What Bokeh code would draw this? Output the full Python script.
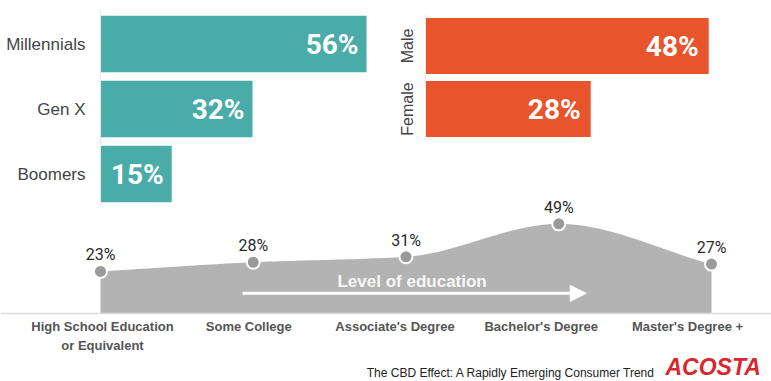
import numpy as np
from bokeh.plotting import figure
from bokeh.core.properties import value
from bokeh.models import (ColumnDataSource, FactorRange, Range1d, LabelSet, Label,
                          Arrow, NormalHead, Span)
from bokeh.layouts import column, row
from bokeh.embed import file_html
from bokeh.resources import INLINE

# ---------------- data ----------------
gen_cats = ["Millennials", "Gen X", "Boomers"]
gen_vals = [56, 32, 15]
gender_cats = ["Male", "Female"]
gender_vals = [48, 28]
edu_cats = ["High School Education\nor Equivalent", "Some College",
            "Associate's Degree", "Bachelor's Degree", "Master's Degree +"]
edu_vals = [23, 28, 31, 49, 27]
arrow_label = "Level of education"
footer_text = "The CBD Effect: A Rapidly Emerging Consumer Trend"
brand_text = "ACOSTA"

# ---------------- styles ----------------
TEAL = "#4aaca8"
ORANGE = "#e8542c"
AREA = "#b3b3b3"
DOT = "#9a9a9a"
FONT = "Liberation Sans"
NUMFONT = "Roboto"


def style_common(p):
    p.xgrid.visible = False
    p.ygrid.visible = False
    p.outline_line_color = None
    p.frame_align = False


# ---------------- generation bars ----------------
p1 = figure(width=380, height=206, y_range=FactorRange(*reversed(gen_cats)),
            x_range=Range1d(0, 280 / 4.75), output_backend="svg", toolbar_location=None,
            min_border_left=100, min_border_right=0, min_border_top=11, min_border_bottom=0)
style_common(p1)
src1 = ColumnDataSource(dict(cat=gen_cats, val=gen_vals, lbl=[f"{v}%" for v in gen_vals]))
p1.hbar(y="cat", right="val", left=0, height=0.87, source=src1, fill_color=TEAL, line_color=None)
p1.add_layout(LabelSet(x="val", y="cat", text="lbl", source=src1, x_offset=-8,
                       text_align="right", text_baseline="middle", text_color="white",
                       text_font=value(NUMFONT), text_font_size="28px", text_font_style="bold"))
p1.xaxis.visible = False
p1.yaxis.axis_line_color = "#e8e8e8"
p1.yaxis.major_tick_line_color = None
p1.yaxis.minor_tick_line_color = None
p1.yaxis.major_label_standoff = 9
p1.yaxis.major_label_text_font = FONT
p1.yaxis.major_label_text_font_size = "17px"
p1.yaxis.major_label_text_color = "#444444"

# ---------------- gender bars ----------------
p2 = figure(width=391, height=206, y_range=FactorRange(*reversed(gender_cats)),
            x_range=Range1d(0, 346 / 5.9), output_backend="svg", toolbar_location=None,
            min_border_left=45, min_border_right=0, min_border_top=14, min_border_bottom=66)
style_common(p2)
src2 = ColumnDataSource(dict(cat=gender_cats, val=gender_vals, lbl=[f"{v}%" for v in gender_vals]))
p2.hbar(y="cat", right="val", left=0, height=0.89, source=src2, fill_color=ORANGE, line_color=None)
p2.add_layout(LabelSet(x="val", y="cat", text="lbl", source=src2, x_offset=-10,
                       text_align="right", text_baseline="middle", text_color="white",
                       text_font=value(NUMFONT), text_font_size="28px", text_font_style="bold"))
p2.xaxis.visible = False
p2.yaxis.axis_line_color = "#e8e8e8"
p2.yaxis.major_tick_line_color = None
p2.yaxis.minor_tick_line_color = None
p2.yaxis.major_label_orientation = "vertical"
p2.yaxis.major_label_standoff = 4
p2.yaxis.major_label_text_font = FONT
p2.yaxis.major_label_text_font_size = "16px"
p2.yaxis.major_label_text_color = "#444444"

# ---------------- education area ----------------
n = len(edu_vals)
xs = np.arange(n, dtype=float)
ys = np.array(edu_vals, dtype=float)

# monotone cubic (Fritsch-Carlson) rendering of the smooth outline through the data points
d = np.diff(ys)
m = np.zeros(n)
m[0], m[-1] = d[0], d[-1]
for k in range(1, n - 1):
    m[k] = 0.0 if d[k - 1] * d[k] <= 0 else 2.0 / (1.0 / d[k - 1] + 1.0 / d[k])
cx, cy = [], []
t = np.linspace(0, 1, 30)
for k in range(n - 1):
    h00 = 2 * t**3 - 3 * t**2 + 1
    h10 = t**3 - 2 * t**2 + t
    h01 = -2 * t**3 + 3 * t**2
    h11 = t**3 - t**2
    cx.extend(xs[k] + t)
    cy.extend(h00 * ys[k] + h10 * m[k] + h01 * ys[k + 1] + h11 * m[k + 1])
area_src = ColumnDataSource(dict(x=[xs[0]] + cx + [xs[-1]], y=[0.0] + cy + [0.0]))

OVERLAP = 14
H3 = 381 - 206 + OVERLAP          # 189
BASE = 313 - (206 - OVERLAP)       # baseline, px from top of p3
PXU = 1.83                         # px per percent
p3 = figure(width=771, height=H3,
            x_range=Range1d(-100 / 152.75, 671 / 152.75),
            y_range=Range1d(-(H3 - BASE) / PXU, BASE / PXU),
            output_backend="svg", toolbar_location=None,
            min_border_left=0, min_border_right=0, min_border_top=0, min_border_bottom=0,
            styles={"margin-top": f"-{OVERLAP}px"})
style_common(p3)
p3.background_fill_alpha = 0
p3.border_fill_alpha = 0
p3.xaxis.visible = False
p3.yaxis.visible = False
p3.patch("x", "y", source=area_src, fill_color=AREA, line_color=None)
p3.add_layout(Span(location=0, dimension="width", line_color="#dcdcdc", line_width=1.5))

lines = [c.split("\n") for c in edu_cats]
pt_src = ColumnDataSource(dict(x=xs, v=ys, zero=np.zeros(n), lbl=[f"{v}%" for v in edu_vals],
                               line1=[l[0] for l in lines],
                               line2=[l[1] if len(l) > 1 else "" for l in lines],
                               xoff=[2 - 6.5 * i for i in range(n)]))
p3.scatter("x", "v", source=pt_src, size=13, fill_color=DOT, line_color="white", line_width=2)
p3.add_layout(LabelSet(x="x", y="v", text="lbl", source=pt_src, y_offset=7,
                       text_align="center", text_baseline="bottom", text_color="#2a2a2a",
                       text_font=value(NUMFONT), text_font_size="16px"))
for txt, yoff in (("line1", -5), ("line2", -24)):
    p3.add_layout(LabelSet(x="x", y="zero", text=txt, source=pt_src, x_offset="xoff", y_offset=yoff,
                           text_align="center", text_baseline="top", text_color="#555555",
                           text_font=value(FONT), text_font_size="13px", text_font_style="bold"))

p3.add_layout(Arrow(x_start=0.93, y_start=11, x_end=3.18, y_end=11,
                    line_color="white", line_width=3,
                    end=NormalHead(size=16, fill_color="white", line_color="white")))
p3.add_layout(Label(x=2.04, y=17.5, text=arrow_label, text_align="center", text_baseline="middle",
                    text_color="#f7f7f7", text_font=FONT, text_font_size="17px",
                    text_font_style="bold"))

p3.add_layout(Label(x=655, y=9, x_units="screen", y_units="screen", text=footer_text,
                    text_align="right", text_baseline="middle", text_color="#222222",
                    text_font=FONT, text_font_size="12px"))
p3.add_layout(Label(x=665, y=15, x_units="screen", y_units="screen", text=brand_text,
                    text_align="left", text_baseline="middle", text_color="#d7282f",
                    text_font=FONT, text_font_size="23px", text_font_style="bold italic"))

layout = column(row(p1, p2, spacing=0), p3, spacing=0)
open("out.html", "w").write(file_html(layout, INLINE))
